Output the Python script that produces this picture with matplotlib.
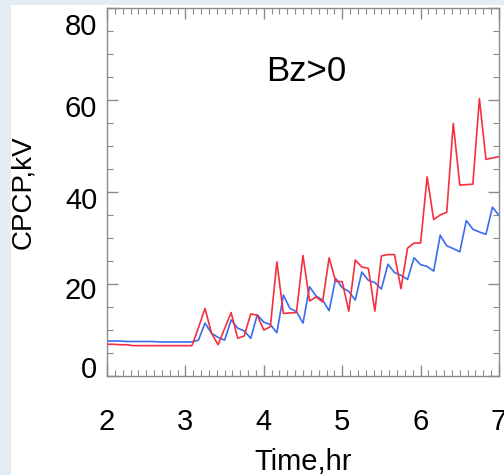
import numpy as np
import matplotlib
matplotlib.use("Agg")
import matplotlib.pyplot as plt
import matplotlib.transforms as mtransforms
from matplotlib.patches import Rectangle
from matplotlib.ticker import MultipleLocator

# --- data: 5-minute samples from 2 to 7 hr ---
time_hr = np.linspace(2, 7, 61)

cpcp_red = [6.9, 6.9, 6.8, 6.8, 6.6, 6.6, 6.6, 6.6, 6.6, 6.6, 6.6, 6.6, 6.6, 6.6,
            10.5, 14.7, 9.3, 6.8, 10.3, 13.8, 8.2, 8.7, 13.5, 13.2, 10.0, 10.7,
            24.8, 13.6, 13.7, 13.8, 26.2, 16.3, 17.2, 16.1, 25.7, 20.6, 20.5,
            14.1, 25.2, 23.7, 23.4, 14.1, 26.1, 26.4, 26.4, 19.0, 27.8, 28.9,
            28.9, 43.3, 34.0, 35.0, 35.6, 54.9, 41.5, 41.6, 41.7, 60.3, 47.1,
            47.4, 47.7]

cpcp_blue = [7.6, 7.6, 7.6, 7.5, 7.5, 7.5, 7.5, 7.5, 7.4, 7.4, 7.4, 7.4, 7.4, 7.4,
             7.8, 11.5, 9.3, 8.4, 7.8, 12.2, 10.4, 9.8, 8.2, 13.3, 11.7, 11.2,
             9.4, 17.6, 14.7, 14.0, 11.5, 19.4, 17.4, 16.5, 14.2, 21.2, 19.2,
             18.4, 16.5, 22.6, 20.8, 20.3, 18.9, 24.3, 22.5, 21.9, 21.0, 25.7,
             24.2, 23.8, 22.8, 30.6, 28.3, 27.7, 27.0, 33.8, 31.9, 31.3, 30.8,
             36.7, 34.9]

x_ticks = [2, 3, 4, 5, 6, 7]
y_ticks = [0, 20, 40, 60, 80]

plt.rcParams['font.family'] = ['Liberation Sans', 'DejaVu Sans']

fig = plt.figure(figsize=(5.04, 4.75), dpi=100)
fig.patch.set_facecolor('#e3edf3')
# white panel inside the light blue frame (behind the axes)
fig.patches.append(Rectangle((11 / 504, 0), 1, 1 - 5 / 475, transform=fig.transFigure,
                             facecolor='white', edgecolor='none', zorder=-10))

ax = fig.add_axes([107 / 504, 1 - 376 / 475, 392 / 504, 368 / 475])
ax.set_facecolor('none')
ax.plot(time_hr, cpcp_blue, color='#3a6cf0', lw=1.2)
ax.plot(time_hr, cpcp_red, color='#f5303c', lw=1.2)

ax.set_xlim(2, 7)
ax.set_ylim(0, 80)
ax.set_xticks(x_ticks)
ax.set_yticks(y_ticks)
ax.xaxis.set_minor_locator(MultipleLocator(0.1))
ax.yaxis.set_minor_locator(MultipleLocator(5))

for s in ax.spines.values():
    s.set_color('#8a8a8a')
    s.set_linewidth(1.0)

ax.tick_params(which='both', direction='in', top=True, right=True, color='#8a8a8a')
ax.tick_params(which='major', length=8, width=1.0)
ax.tick_params(which='minor', length=4, width=0.8)
ax.tick_params(axis='x', which='major', labelsize=21, pad=23)
ax.tick_params(axis='y', which='major', labelsize=21, pad=7)

# the end labels on the y axis sit a little inside the axis range
shifts = {0: 9, 20: -4, 40: -6, 60: -6, 80: -16}
for val, lab in zip(y_ticks, ax.get_yticklabels()):
    off = mtransforms.ScaledTranslation(0, shifts[val] / 100, fig.dpi_scale_trans)
    lab.set_transform(lab.get_transform() + off)

ax.set_xlabel('Time,hr', fontsize=21)
ax.xaxis.set_label_coords(0.5, -0.195)
ax.set_ylabel('CPCP,kV', fontsize=20)
ax.yaxis.set_label_coords(-0.18, 0.5)

ax.text(4.54, 66.2, 'Bz>0', fontsize=25, ha='center', va='center')

fig.savefig('out.png', dpi=100, facecolor=fig.get_facecolor())
